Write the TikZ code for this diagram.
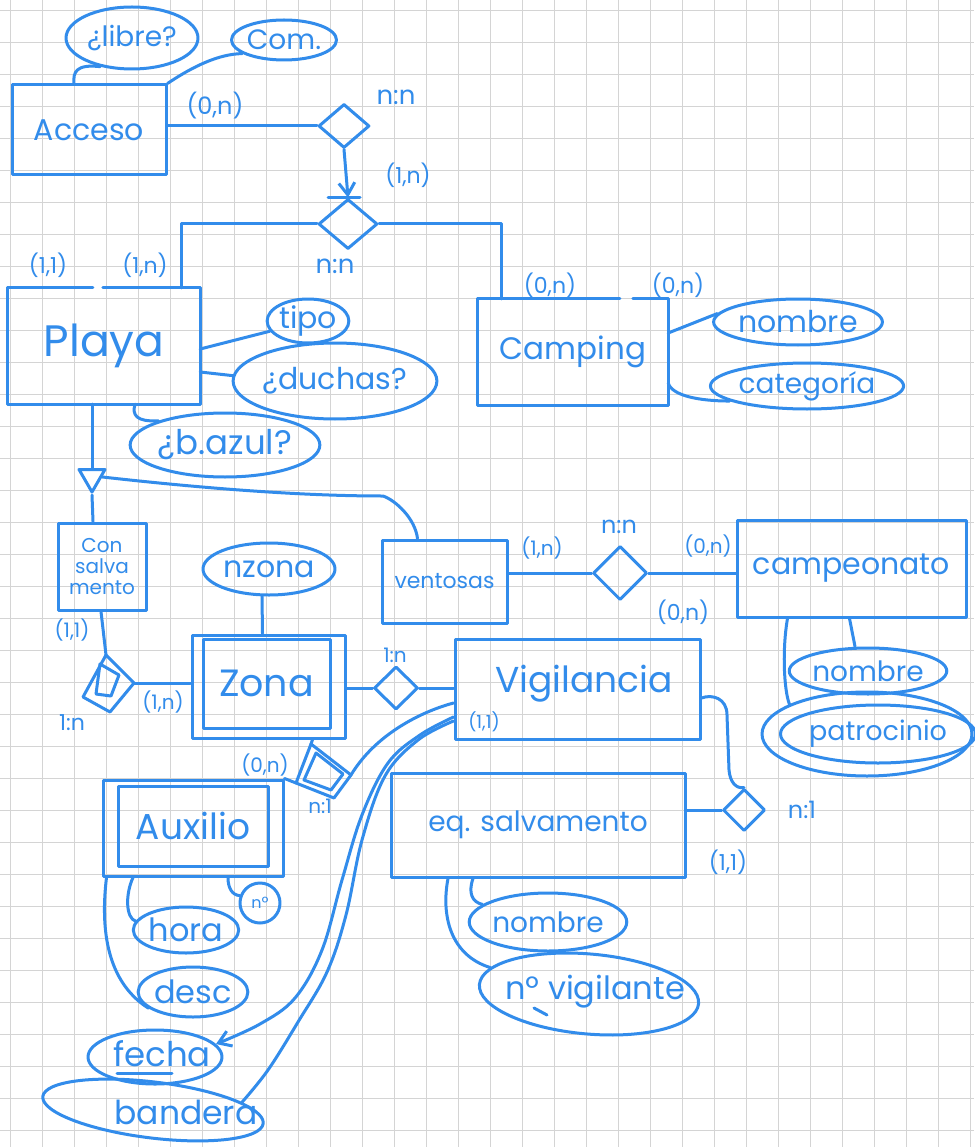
\documentclass[tikz,border=0pt]{standalone}
\usepackage{fontspec}
\setmainfont{Poppins}
\usetikzlibrary{shapes.geometric,arrows.meta}
\definecolor{ink}{RGB}{50,140,235}
\definecolor{gridgray}{RGB}{212,212,212}
\newcommand\hw[1]{\fontsize{#1}{#1}\selectfont}

\begin{document}
\begin{tikzpicture}[x=1pt,y=-1pt,
  gridline/.style={draw=gridgray, line width=1pt},
  pen/.style={draw=ink, line width=3pt, line cap=round, line join=round},
  box/.style={rectangle, inner sep=0pt, text=ink},
  entity/.style={box, pen},
  attr/.style={pen, ellipse, inner sep=0pt, text=ink},
  rel/.style={pen, diamond, inner sep=0pt},
  word/.style={text=ink, inner sep=0pt},
  card/.style={word, font=\hw{22}},
  ratio/.style={word, font=\hw{26}},
  barb/.style={-{Straight Barb[length=12pt,width=16pt]}}
]
\fill[white] (0,0) rectangle (974,1147);
\useasboundingbox (0,0) rectangle (974,1147);

% squared paper
\foreach \k in {0,...,30} \draw[gridline] ({10.7+32*\k},0) -- ({10.7+32*\k},1147);
\foreach \k in {0,...,35} \draw[gridline] (0,{10.7+32*\k}) -- (974,{10.7+32*\k});

% ---------- entities ----------
\node[entity, minimum width=154, minimum height=90, font=\hw{30}] (acceso) at (89,130) {Acceso};
\node[box, minimum width=192, minimum height=116, font=\hw{44}] (playa) at (104,346) {Playa};
\node[box, minimum width=190, minimum height=106, font=\hw{31}] (camping) at (573,352) {Camping};
\node[entity, minimum width=88, minimum height=87, align=center,
      font=\fontsize{20}{21}\selectfont] (consalv) at (102,566.5) {Con\\salva\\mento};
\node[entity, minimum width=125, minimum height=83, font=\hw{22}] (ventosas) at (444.5,581.5) {ventosas};
\node[entity, minimum width=229, minimum height=97, font=\hw{30}] (campeonato) at (851.5,568.5) {campeonato};
\node[entity, minimum width=153, minimum height=103] (zona) at (268.5,686.5) {};
\node[entity, minimum width=127, minimum height=89, font=\hw{38}] (zonain) at (266.5,683.5) {Zona};
\node[entity, minimum width=245, minimum height=100] (vigilancia) at (577.5,689) {};
\node[word, font=\hw{36}] (vigilanciatxt) at (584,684) {Vigilancia};
\node[entity, minimum width=180, minimum height=96] (auxilio) at (193,828) {};
\node[entity, minimum width=150, minimum height=80, font=\hw{36}] (auxilioin) at (193,826) {Auxilio};
\node[entity, minimum width=294, minimum height=104, font=\hw{28}] (eqsalv) at (538,825) {eq. salvamento};

% boxes whose top edge is left open where the connectors meet
\draw[pen] ([xshift=95]playa.north west) -- (playa.north east) -- (playa.south east)
  -- (playa.south west) -- (playa.north west) -- ([xshift=85]playa.north west);
\draw[pen] ([xshift=155]camping.north west) -- (camping.north east) -- (camping.south east)
  -- (camping.south west) -- (camping.north west) -- ([xshift=142]camping.north west);

% ---------- attributes ----------
\node[attr, minimum width=132, minimum height=62, font=\hw{28}] (libre) at (132,38) {¿libre?};
\node[attr, minimum width=86, minimum height=40, font=\hw{28}] (com) at (284,40) {Com.};
\node[attr, minimum width=80, minimum height=44, font=\hw{30}] (tipo) at (308,321) {tipo};
\node[attr, minimum width=182, minimum height=76, font=\hw{30}] (duchas) at (335,381) {¿duchas?};
\node[attr, minimum width=186, minimum height=64, font=\hw{34}] (bazul) at (225,445) {¿b.azul?};
\node[attr, minimum width=136, minimum height=46, font=\hw{30}] (nombrecamp) at (798,322) {nombre};
\node[attr, minimum width=150, minimum height=46, font=\hw{28}] (categoria) at (807,386) {categoría};
\node[attr, minimum width=132, minimum height=52, font=\hw{30}] (nzona) at (269,569) {nzona};
\node[attr, minimum width=120, minimum height=46, font=\hw{28}] (nombrecamp2) at (868,671) {nombre};
\node[attr, minimum width=210, minimum height=84] (patr) at (867,734) {};
\node[attr, minimum width=164, minimum height=58, font=\hw{27}] (patrin) at (878,734) {patrocinio};
\node[attr, minimum width=94, minimum height=46, font=\hw{32}] (hora) at (186,930) {hora};
\node[attr, circle, minimum size=40, font=\hw{16}] (nro) at (260,903) {nº};
\node[attr, minimum width=102, minimum height=50, font=\hw{32}] (desc) at (193,992) {desc};
\node[attr, minimum width=134, minimum height=54] (fecha) at (155,1057) {};
\node[word, font=\hw{34}] (fechatxt) at (162,1054) {fecha};
\node[attr, minimum width=222, minimum height=56, rotate=-7] (bandera) at (153,1110) {};
\node[word, font=\hw{33}] (banderatxt) at (186,1112) {bandera};
\node[attr, minimum width=154, minimum height=58, font=\hw{28}] (nombreeq) at (548,922) {nombre};
\node[attr, minimum width=220, minimum height=80, rotate=-5] (nvig) at (589,994) {};
\node[word, font=\hw{32}] (nvigtxt) at (595,992) {nº vigilante};

% key strokes under fecha and nº vigilante
\draw[pen] (117,1073) -- (172,1073);
\draw[pen] (534,1008) -- (547,1015);

% ---------- relationships ----------
\node[rel, minimum width=51, minimum height=44] (r1) at (344,126) {};
\node[rel, minimum width=59, minimum height=50] (r2) at (348,224) {};
\node[rel, minimum width=54, minimum height=54] (rv) at (620,573) {};
\node[rel, minimum width=44, minimum height=43] (rzv) at (396,688) {};
\node[rel, minimum width=42, minimum height=42] (rve) at (744,810) {};

% weak relationship Con salvamento - Zona
\coordinate (c1) at (106,655);
\coordinate (c2) at (134,683);
\coordinate (c3) at (110,712);
\coordinate (c4) at (83,697);
\draw[pen] (c1) -- (c2) -- (c3) -- (c4) -- cycle;
\draw[pen] (100,664) -- (119,675) -- (111,696) -- (96,694) -- cycle;

% weak relationship Zona - Auxilio
\coordinate (z1) at (311,744);
\coordinate (z2) at (351,775);
\coordinate (z3) at (334,798);
\coordinate (z4) at (296,783);
\draw[pen] (z1) -- (z2) -- (z3) -- (z4) -- cycle;
\draw[pen] (316,753) -- (343,774) -- (331,790) -- (304,780) -- cycle;

% specialisation triangle under Playa
\node[pen, regular polygon, regular polygon sides=3, shape border rotate=180,
      minimum size=30, inner sep=0pt] (isa) at (92,477) {};

% ---------- connectors ----------
\draw[pen] (acceso.east |- r1.west) -- (r1.west);
\draw[pen, barb] (r1.south) -- (r2.north);
\draw[pen] ([xshift=-20]r2.north) -- ([xshift=12]r2.north);
\draw[pen] (r2.east) -| ([xshift=24]camping.north west);
\draw[pen] (r2.west) -| ([xshift=-19]playa.north east);

\draw[pen] ([xshift=-15]acceso.north) .. controls (73,72) and (76,64) .. (libre.222);
\draw[pen] (acceso.north east) .. controls (195,65) and (220,54) .. (com.198);

\draw[pen] ([yshift=-3]playa.east) -- (tipo.195);
\draw[pen] ([yshift=-26]playa.east) -- (duchas.177);
\draw[pen] ([xshift=31]playa.south) .. controls (132,415) and (136,422) .. (bazul.160);

\draw[pen] ([yshift=19]camping.east) -- (nombrecamp.174);
\draw[pen] ([yshift=-31]camping.east) .. controls (672,396) and (700,401) .. (categoria.191);

\draw[pen] ([xshift=-12]playa.south) -- (isa.north);
\draw[pen] (isa.south) -- ([xshift=-9]consalv.north);
\draw[pen] (isa.east) .. controls (200,488) and (300,496) .. (383,496)
  .. controls (395,500) and (415,518) .. ([xshift=-27]ventosas.north);

\draw[pen] ([xshift=-1]consalv.south) -- (c1);
\draw[pen] (c2) -- (c2 -| zona.west);
\draw[pen] ([xshift=-7]nzona.south) -- ([xshift=-6]zona.north);
\draw[pen] (zona.east |- rzv.west) -- (rzv.west);
\draw[pen] (rzv.east) -- (rzv.east -| vigilancia.west);

\draw[pen] (ventosas.east |- rv.west) -- (rv.west);
\draw[pen] (rv.east) -- (rv.east -| campeonato.west);
\draw[pen] ([xshift=-2]campeonato.south) -- ([xshift=-13]nombrecamp2.north);
\draw[pen] ([xshift=-64]campeonato.south) .. controls (782,650) and (784,690) .. (patr.159);

\draw[pen] ([xshift=44]zona.south) -- (z1);
\draw[pen] (auxilio.north east) -- (z4);
\draw[pen] ([yshift=-14]vigilancia.west) .. controls (420,712) and (375,735) .. (z2);
\draw[pen, barb] plot[smooth, tension=0.6] coordinates {([yshift=-28]vigilancia.west)
  (420,735) (388,763) (362,815) (342,880) (322,950) (295,998) (260,1024) (fecha.12)};
\draw[pen] plot[smooth, tension=0.6] coordinates {([yshift=-32]vigilancia.west)
  (418,740) (385,776) (362,840) (346,915) (327,972) (298,1022) (268,1070) (bandera.12)};

\draw[pen] ([yshift=-9]vigilancia.east) .. controls (712,694) and (727,698) .. (727,715)
  -- (729,770) .. controls (730,782) and (736,789) .. (rve.north);
\draw[pen] (eqsalv.east |- rve.west) -- (rve.west);

\draw[pen] ([xshift=-60]auxilio.south) .. controls (125,895) and (126,918) .. (hora.170);
\draw[pen] ([xshift=35]auxilio.south) .. controls (228,888) and (232,895) .. (nro.160);
\draw[pen] ([xshift=5]auxilio.south west) .. controls (99,940) and (112,985) .. (desc.200);

\draw[pen] ([xshift=-65]eqsalv.south) .. controls (468,893) and (472,902) .. (nombreeq.165);
\draw[pen] ([xshift=-90]eqsalv.south) .. controls (441,915) and (450,955) .. (nvig.170);

% ---------- cardinalities ----------
\node[card, font=\hw{24}] (k1) at (215,106) {(0,n)};
\node[ratio] (k2) at (396,97) {n:n};
\node[card] (k3) at (408,175) {(1,n)};
\node[ratio] (k4) at (335,266) {n:n};
\node[card] (k5) at (48,265) {(1,1)};
\node[card] (k6) at (145,265) {(1,n)};
\node[card] (k7) at (550,285) {(0,n)};
\node[card] (k8) at (678,285) {(0,n)};
\node[card, font=\hw{20}] (k9) at (72,630) {(1,1)};
\node[ratio, font=\hw{22}] (k10) at (72,723) {1:n};
\node[card, font=\hw{20}] (k11) at (163,702) {(1,n)};
\node[ratio, font=\hw{20}] (k12) at (395,655) {1:n};
\node[card, font=\hw{20}] (k13) at (542,548) {(1,n)};
\node[ratio, font=\hw{24}] (k14) at (619,527) {n:n};
\node[card, font=\hw{20}] (k15) at (708,546) {(0,n)};
\node[card] (k16) at (683,612) {(0,n)};
\node[card, font=\hw{18}] (k17) at (484,722) {(1,1)};
\node[card, font=\hw{20}] (k18) at (265,765) {(0,n)};
\node[ratio, font=\hw{20}] (k19) at (320,806) {n:1};
\node[ratio, font=\hw{24}] (k20) at (802,810) {n:1};
\node[card] (k21) at (728,862) {(1,1)};
\end{tikzpicture}
\end{document}
